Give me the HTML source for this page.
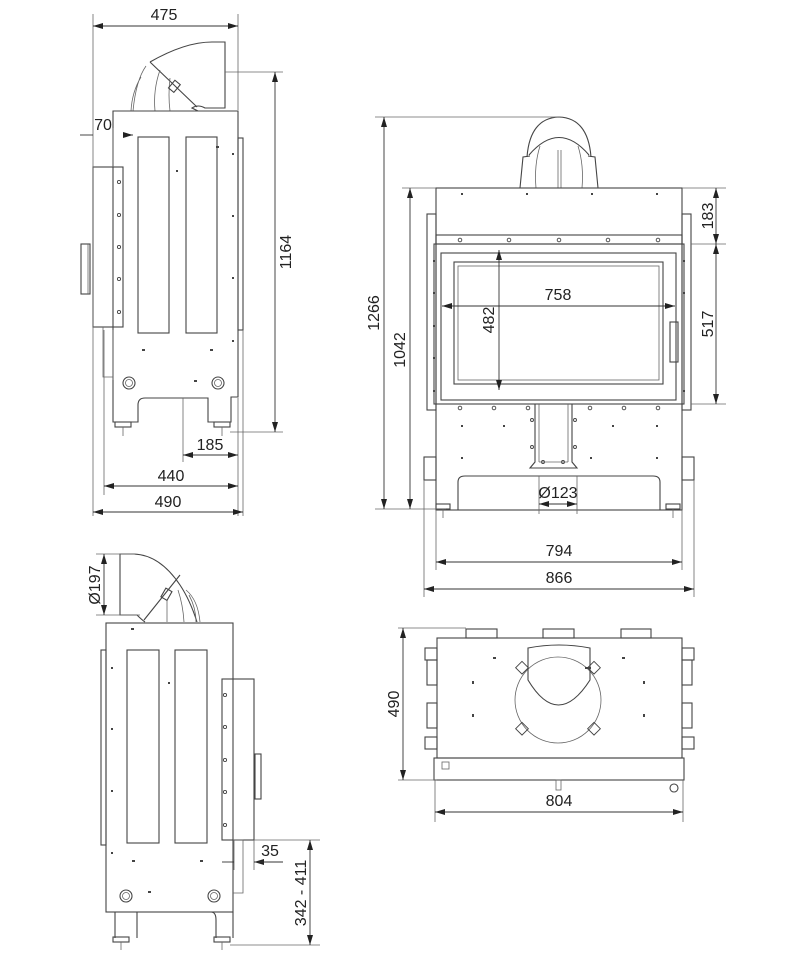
<!DOCTYPE html>
<html><head><meta charset="utf-8"><style>
html,body{margin:0;padding:0;background:#fff}
svg{display:block}
text{font-family:"Liberation Sans",sans-serif;font-size:16px;fill:#222}
.l{stroke:#444;stroke-width:1.1;fill:none}
.t{stroke:#666;stroke-width:0.8;fill:none}
.d{stroke:#333;stroke-width:0.9;fill:none}
.a{stroke:#333;stroke-width:0.9;fill:none;marker-start:url(#ar);marker-end:url(#ar)}
.s{fill:none;stroke:#444;stroke-width:0.9}
</style></head><body>
<svg width="800" height="960" viewBox="0 0 800 960" xmlns="http://www.w3.org/2000/svg">
<defs>
<marker id="ar" viewBox="0 0 10 6" refX="10" refY="3" markerWidth="10" markerHeight="6" orient="auto-start-reverse" markerUnits="userSpaceOnUse"><path d="M0,0 L10,3 L0,6 z" fill="#222"/></marker>
</defs>

<!-- ===== VIEW 1 ===== -->
<g>
<path class="l" d="M150,62 Q185,42 212,42 L225,42 L225,108 L205,108 Q198,104 192,108 L198,111"/>
<line class="l" x1="150" y1="62" x2="197" y2="107"/>
<path class="t" d="M146,66 Q136,80 133,111 M141,77 Q132,92 131,111 M160,70 Q153,90 155,111 M170,78 Q168,95 170,111"/>
<rect class="l" x="171" y="81" width="7" height="10" transform="rotate(40 174 86)"/>
<line class="t" x1="225" y1="72" x2="283" y2="72"/>
<path class="l" d="M113,111 L238,111 L238,397 L231,397 L231,422 L208,422 L208,398 L145,398 Q138,398 138,405 L138,422 L113,422 Z"/>
<rect class="l" x="238" y="138" width="5" height="192"/>
<rect class="l" x="138" y="137" width="31" height="196"/>
<rect class="l" x="186" y="137" width="31" height="196"/>
<rect class="l" x="93" y="167" width="30" height="160"/>
<rect class="l" x="81" y="244" width="9" height="50"/>
<line class="t" x1="88" y1="244" x2="88" y2="294"/>
<line class="t" x1="113" y1="330" x2="113" y2="380"/>
<path class="t" d="M103,327 L103,377 L113,377"/>
<g class="s"><circle cx="119" cy="182" r="1.6"/><circle cx="119" cy="215" r="1.6"/><circle cx="119" cy="247" r="1.6"/><circle cx="119" cy="279" r="1.6"/><circle cx="119" cy="312" r="1.6"/></g>
<g fill="#444"><rect x="232" y="153" width="2" height="2"/><rect x="232" y="215" width="2" height="2"/><rect x="232" y="277" width="2" height="2"/><rect x="232" y="340" width="2" height="2"/><rect x="216" y="146" width="3" height="2"/><rect x="142" y="349" width="3" height="2"/><rect x="210" y="349" width="3" height="2"/><rect x="194" y="380" width="3" height="2"/><rect x="176" y="170" width="2" height="2"/></g>
<circle class="l" cx="129" cy="383" r="6"/><circle class="t" cx="129" cy="383" r="3.5"/>
<circle class="l" cx="218" cy="383" r="6"/><circle class="t" cx="218" cy="383" r="3.5"/>
<rect class="l" x="115" y="422" width="16" height="5"/><line class="t" x1="123" y1="427" x2="123" y2="436"/>
<rect class="l" x="214" y="422" width="16" height="5"/><line class="t" x1="222" y1="427" x2="222" y2="436"/>
<line class="t" x1="93" y1="14" x2="93" y2="516"/>
<line class="t" x1="238" y1="14" x2="238" y2="110"/>
<line class="a" x1="93" y1="26" x2="238" y2="26"/><text x="164" y="20" text-anchor="middle">475</text>
<line class="t" x1="230" y1="432" x2="283" y2="432"/>
<line class="a" x1="275" y1="72" x2="275" y2="432"/><text transform="translate(291,252) rotate(-90)" text-anchor="middle">1164</text>
<line class="d" x1="80" y1="135" x2="93" y2="135"/><line class="a" x1="123" y1="135" x2="133" y2="135" style="marker-start:none"/><line class="t" x1="113" y1="128" x2="113" y2="167"/>
<text x="103" y="130" text-anchor="middle">70</text>
<line class="t" x1="183" y1="398" x2="183" y2="462"/><line class="t" x1="238" y1="398" x2="238" y2="516"/>
<line class="a" x1="183" y1="455" x2="238" y2="455"/><text x="210" y="450" text-anchor="middle">185</text>
<line class="t" x1="104" y1="330" x2="104" y2="495"/>
<line class="a" x1="104" y1="486" x2="238" y2="486"/><text x="171" y="481" text-anchor="middle">440</text>
<line class="t" x1="243" y1="330" x2="243" y2="516"/>
<line class="a" x1="93" y1="512" x2="243" y2="512"/><text x="168" y="507" text-anchor="middle">490</text>
</g>

<!-- ===== VIEW 2 ===== -->
<g>
<path class="l" d="M527,157 Q530,118 559,117 Q588,118 591,157"/>
<path class="l" d="M529,155 Q559,120 589,155"/>
<path class="l" d="M520,188 L523,157 L530,156 M598,188 L595,157 L588,156"/>
<path class="t" d="M540,146 Q534,165 536,188 M578,146 Q584,165 582,188 M558,150 L558,188 M561,150 L561,188"/>
<line class="t" x1="375" y1="117" x2="560" y2="117"/>
<rect class="l" x="436" y="188" width="246" height="322"/>
<rect class="l" x="427" y="214" width="9" height="196"/>
<rect class="l" x="682" y="214" width="9" height="196"/>
<rect class="l" x="436" y="235" width="246" height="9"/>
<rect class="l" x="434" y="244" width="250" height="160"/>
<rect class="l" x="441" y="253" width="235" height="147"/>
<rect class="l" x="454" y="262" width="209" height="122"/>
<rect class="t" x="458" y="266" width="201" height="114"/>
<rect class="l" x="670" y="322" width="8" height="40"/>
<g class="s"><circle cx="460" cy="240" r="1.8"/><circle cx="509" cy="240" r="1.8"/><circle cx="559" cy="240" r="1.8"/><circle cx="608" cy="240" r="1.8"/><circle cx="658" cy="240" r="1.8"/>
<circle cx="460" cy="408" r="1.8"/><circle cx="494" cy="408" r="1.8"/><circle cx="528" cy="408" r="1.8"/><circle cx="590" cy="408" r="1.8"/><circle cx="624" cy="408" r="1.8"/><circle cx="658" cy="408" r="1.8"/>
<circle cx="532" cy="420" r="1.5"/><circle cx="532" cy="447" r="1.5"/><circle cx="575" cy="420" r="1.5"/><circle cx="575" cy="447" r="1.5"/><circle cx="543" cy="462" r="1.5"/><circle cx="563" cy="462" r="1.5"/></g>
<g fill="#444"><rect x="461" y="193" width="2" height="2"/><rect x="526" y="193" width="2" height="2"/><rect x="591" y="193" width="2" height="2"/><rect x="656" y="193" width="2" height="2"/>
<rect x="461" y="425" width="2" height="2"/><rect x="503" y="425" width="2" height="2"/><rect x="612" y="425" width="2" height="2"/><rect x="656" y="425" width="2" height="2"/>
<rect x="461" y="457" width="2" height="2"/><rect x="656" y="457" width="2" height="2"/><rect x="590" y="457" width="2" height="2"/>
<rect x="433" y="260" width="2" height="2"/><rect x="433" y="292" width="2" height="2"/><rect x="433" y="325" width="2" height="2"/><rect x="433" y="357" width="2" height="2"/><rect x="433" y="390" width="2" height="2"/>
<rect x="683" y="260" width="2" height="2"/><rect x="683" y="292" width="2" height="2"/><rect x="683" y="390" width="2" height="2"/></g>
<path class="l" d="M535,404 L535,462 L530,468 L577,468 L572,462 L572,404"/>
<line class="t" x1="539" y1="404" x2="539" y2="462"/><line class="t" x1="568" y1="404" x2="568" y2="462"/><line class="t" x1="539" y1="462" x2="568" y2="462"/>
<rect class="l" x="424" y="457" width="12" height="23"/>
<rect class="l" x="682" y="457" width="12" height="23"/>
<path class="l" d="M458,510 L458,482 Q458,476 465,476 L653,476 Q660,476 660,482 L660,510"/>
<rect class="l" x="436" y="504" width="14" height="5"/><line class="t" x1="443" y1="509" x2="443" y2="518"/>
<rect class="l" x="666" y="504" width="14" height="5"/><line class="t" x1="673" y1="509" x2="673" y2="518"/>
<line class="t" x1="375" y1="509" x2="446" y2="509"/>
<line class="a" x1="384" y1="117" x2="384" y2="509"/><text transform="translate(379,313) rotate(-90)" text-anchor="middle">1266</text>
<line class="t" x1="402" y1="188" x2="436" y2="188"/>
<line class="a" x1="410" y1="188" x2="410" y2="509"/><text transform="translate(405,350) rotate(-90)" text-anchor="middle">1042</text>
<line class="t" x1="682" y1="188" x2="726" y2="188"/><line class="t" x1="691" y1="244" x2="726" y2="244"/><line class="t" x1="691" y1="404" x2="726" y2="404"/>
<line class="a" x1="716" y1="188" x2="716" y2="244"/><text transform="translate(713,216) rotate(-90)" text-anchor="middle">183</text>
<line class="a" x1="716" y1="244" x2="716" y2="404"/><text transform="translate(713,324) rotate(-90)" text-anchor="middle">517</text>
<line class="a" x1="442" y1="306" x2="675" y2="306"/><text x="558" y="300" text-anchor="middle">758</text>
<line class="a" x1="499" y1="250" x2="499" y2="390"/><text transform="translate(494,320) rotate(-90)" text-anchor="middle">482</text>
<line class="t" x1="539" y1="476" x2="539" y2="514"/><line class="t" x1="577" y1="476" x2="577" y2="514"/>
<line class="a" x1="539" y1="504" x2="577" y2="504"/><text x="558" y="498" text-anchor="middle">Ø123</text>
<line class="t" x1="436" y1="510" x2="436" y2="570"/><line class="t" x1="682" y1="510" x2="682" y2="570"/>
<line class="a" x1="436" y1="562" x2="682" y2="562"/><text x="559" y="556" text-anchor="middle">794</text>
<line class="t" x1="424" y1="480" x2="424" y2="597"/><line class="t" x1="694" y1="480" x2="694" y2="597"/>
<line class="a" x1="424" y1="589" x2="694" y2="589"/><text x="559" y="583" text-anchor="middle">866</text>
</g>

<!-- ===== VIEW 3 ===== -->
<g>
<path class="l" d="M197,622 Q190,600 180,585 Q160,555 134,554 L120,554 L120,615 L137,615 Q142,620 145,622"/>
<line class="l" x1="180" y1="575" x2="144" y2="620"/>
<path class="t" d="M186,590 Q198,600 200,622 M189,595 Q196,608 196,622 M178,590 Q183,605 184,622 M167,600 L167,622"/>
<rect class="l" x="163" y="589" width="7" height="10" transform="rotate(30 166 594)"/>
<rect class="l" x="106" y="623" width="127" height="289"/>
<rect class="l" x="101" y="650" width="5" height="195"/>
<rect class="l" x="127" y="650" width="32" height="193"/>
<rect class="l" x="175" y="650" width="32" height="193"/>
<rect class="l" x="222" y="679" width="32" height="161"/>
<rect class="l" x="255" y="754" width="6" height="45"/>
<path class="t" d="M233,840 L243,840 L243,893 L233,893"/>
<g class="s"><circle cx="225" cy="695" r="1.6"/><circle cx="225" cy="727" r="1.6"/><circle cx="225" cy="760" r="1.6"/><circle cx="225" cy="792" r="1.6"/><circle cx="225" cy="825" r="1.6"/></g>
<g fill="#444"><rect x="111" y="667" width="2" height="2"/><rect x="111" y="728" width="2" height="2"/><rect x="111" y="790" width="2" height="2"/><rect x="111" y="852" width="2" height="2"/><rect x="131" y="628" width="3" height="2"/><rect x="132" y="860" width="3" height="2"/><rect x="200" y="860" width="3" height="2"/><rect x="148" y="891" width="3" height="2"/><rect x="168" y="682" width="2" height="2"/></g>
<circle class="l" cx="126" cy="896" r="6"/><circle class="t" cx="126" cy="896" r="3.5"/>
<circle class="l" cx="214" cy="896" r="6"/><circle class="t" cx="214" cy="896" r="3.5"/>
<path class="l" d="M115,912 L115,938 M137,912 L137,938 M211,912 Q216,912 216,920 L216,938 M233,912 L233,938"/>
<rect class="l" x="113" y="937" width="16" height="5"/><line class="t" x1="121" y1="942" x2="121" y2="950"/>
<rect class="l" x="214" y="937" width="16" height="5"/><line class="t" x1="222" y1="942" x2="222" y2="950"/>
<line class="t" x1="96" y1="554" x2="135" y2="554"/><line class="t" x1="96" y1="615" x2="140" y2="615"/>
<line class="a" x1="104" y1="554" x2="104" y2="615"/><text transform="translate(100,585) rotate(-90)" text-anchor="middle">Ø197</text>
<line class="t" x1="254" y1="840" x2="320" y2="840"/><line class="t" x1="230" y1="945" x2="320" y2="945"/>
<line class="a" x1="310" y1="840" x2="310" y2="945"/><text transform="translate(306,893) rotate(-90)" text-anchor="middle">342 - 411</text>
<line class="t" x1="254" y1="840" x2="254" y2="870"/><line class="t" x1="234" y1="840" x2="234" y2="870"/>
<line class="d" x1="222" y1="862" x2="234" y2="862"/>
<line class="a" x1="254" y1="862" x2="260" y2="862" style="marker-end:none"/>
<line class="d" x1="254" y1="862" x2="283" y2="862"/>
<text x="270" y="856" text-anchor="middle">35</text>
</g>

<!-- ===== VIEW 4 ===== -->
<g>
<rect class="l" x="437" y="638" width="245" height="120"/>
<rect class="l" x="434" y="758" width="250" height="22"/>
<rect class="l" x="466" y="629" width="31" height="9"/>
<rect class="l" x="543" y="629" width="31" height="9"/>
<rect class="l" x="621" y="629" width="30" height="9"/>
<rect class="l" x="425" y="648" width="12" height="12"/><rect class="l" x="427" y="660" width="10" height="25"/>
<rect class="l" x="427" y="703" width="10" height="25"/><rect class="l" x="425" y="737" width="12" height="12"/>
<rect class="l" x="682" y="648" width="12" height="12"/><rect class="l" x="682" y="660" width="10" height="25"/>
<rect class="l" x="682" y="703" width="10" height="25"/><rect class="l" x="682" y="737" width="12" height="12"/>
<circle class="t" cx="558" cy="700" r="43"/>
<path class="l" d="M528,648 L528,680 Q558,730 590,680 L590,648 Q559,642 528,648 Z"/>
<g class="s"><rect x="518" y="663" width="9" height="9" transform="rotate(45 522 667)"/><rect x="590" y="663" width="9" height="9" transform="rotate(45 594 667)"/><rect x="518" y="724" width="9" height="9" transform="rotate(45 522 728)"/><rect x="590" y="724" width="9" height="9" transform="rotate(45 594 728)"/></g>
<g fill="#444"><rect x="493" y="657" width="3" height="2"/><rect x="622" y="657" width="3" height="2"/><rect x="472" y="681" width="2" height="3"/><rect x="643" y="681" width="2" height="3"/><rect x="472" y="714" width="2" height="3"/><rect x="643" y="714" width="2" height="3"/><rect x="585" y="667" width="6" height="2"/></g>
<rect class="t" x="556" y="780" width="5" height="10"/>
<circle class="l" cx="674" cy="788" r="4"/>
<rect class="t" x="442" y="762" width="7" height="7"/>
<line class="t" x1="398" y1="628" x2="466" y2="628"/><line class="t" x1="398" y1="780" x2="437" y2="780"/>
<line class="a" x1="403" y1="628" x2="403" y2="780"/><text transform="translate(399,704) rotate(-90)" text-anchor="middle">490</text>
<line class="t" x1="435" y1="780" x2="435" y2="822"/><line class="t" x1="683" y1="780" x2="683" y2="822"/>
<line class="a" x1="435" y1="812" x2="683" y2="812"/><text x="559" y="806" text-anchor="middle">804</text>
</g>
</svg>
</body></html>
